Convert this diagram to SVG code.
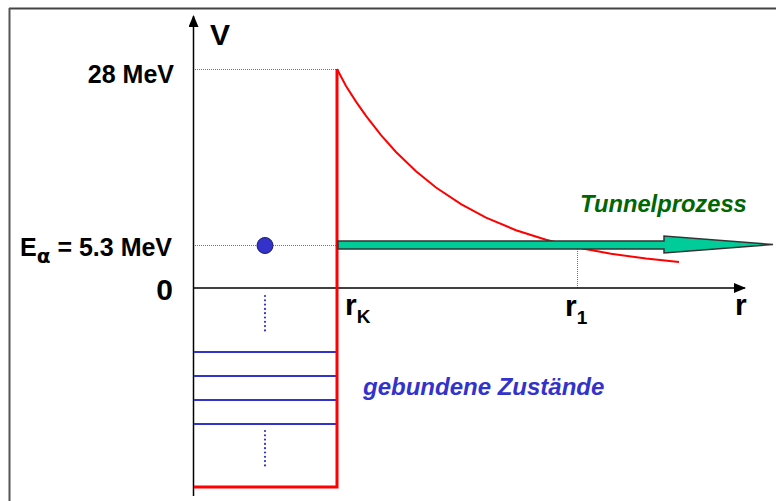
<svg xmlns="http://www.w3.org/2000/svg" width="776" height="501" viewBox="0 0 776 501">
<style>
.lbl{font-family:"Liberation Sans",Arial,sans-serif;font-weight:bold;fill:#000}
.it{font-family:"Liberation Sans",Arial,sans-serif;font-weight:bold;font-style:italic}
.blue{stroke:#3333cc;stroke-width:2;fill:none}
.dots{stroke:#3333cc;stroke-width:2.2;stroke-dasharray:0 4.3;stroke-linecap:round;fill:none}
.guide{stroke:#777;stroke-width:1;stroke-dasharray:1 1;fill:none}
.red{stroke:#ff0000;fill:none}
</style>
<defs>
<marker id="ah" markerWidth="12" markerHeight="10" refX="11" refY="5" orient="auto" markerUnits="userSpaceOnUse">
<path d="M0,0 L12,5 L0,10 Z" fill="#000"/>
</marker>
</defs>
<rect width="776" height="501" fill="#fff"/>
<g id="frame">
<line x1="9" y1="8.5" x2="776" y2="8.5" stroke="#444" stroke-width="2"/>
<line x1="9.5" y1="8" x2="9.5" y2="501" stroke="#555" stroke-width="2"/>
</g>
<g id="guides">
<line class="guide" x1="195" y1="69.5" x2="336" y2="69.5"/>
<line class="guide" x1="195" y1="245.5" x2="336" y2="245.5"/>
<line class="guide" x1="577.5" y1="249" x2="577.5" y2="288"/>
</g>
<g id="connectors">
<line id="v-axis" x1="193.5" y1="496" x2="193.5" y2="16" stroke="#000" stroke-width="1.5" marker-end="url(#ah)"/>
<line id="r-axis" x1="193" y1="288" x2="745" y2="288" stroke="#000" stroke-width="1.5" marker-end="url(#ah)"/>
</g>
<g id="bound-states">
<line class="blue" x1="194" y1="352" x2="336" y2="352"/>
<line class="blue" x1="194" y1="376" x2="336" y2="376"/>
<line class="blue" x1="194" y1="400" x2="336" y2="400"/>
<line class="blue" x1="194" y1="424" x2="336" y2="424"/>
<line class="dots" x1="265" y1="296" x2="265" y2="332"/>
<line class="dots" x1="265" y1="431" x2="265" y2="467"/>
</g>
<g id="potential">
<path class="red" stroke-width="3" d="M194,487 H337 V69"/>
<path class="red" stroke-width="2" d="M337,69 L346,86 L356,101.6 L366,115.9 L381,135.2 L396,152 L416,171.3 L436,187.5 L461,204.2 L486,217.6 L516,230.2 L546,239.8 L576,247.3 L611,253.8 L646,258.6 L679,262"/>
</g>
<g id="tunnel-arrow">
<path d="M338,241 H664 V236 L773,244.5 L664,253 V249 H338 Z" fill="#00cc99" stroke="#333" stroke-width="1.5"/>
</g>
<g id="alpha">
<circle cx="265" cy="245.5" r="8" fill="#3333cc" stroke="#1a1a66" stroke-width="1"/>
</g>
<g id="labels">
<text class="lbl" x="210" y="45" font-size="30">V</text>
<text class="lbl" x="174" y="83" font-size="25" text-anchor="end">28 MeV</text>
<text class="lbl" x="20" y="256" font-size="25">E<tspan font-size="20" dy="7" font-family="'DejaVu Sans',sans-serif">α</tspan><tspan dy="-7"> = 5.3 MeV</tspan></text>
<text class="lbl" x="173" y="300" font-size="30" text-anchor="end">0</text>
<text class="lbl" x="345" y="315" font-size="30">r<tspan font-size="19" dy="8">K</tspan></text>
<text class="lbl" x="565" y="316" font-size="30">r<tspan font-size="19" dy="8">1</tspan></text>
<text class="lbl" x="735" y="315" font-size="30">r</text>
<text class="it" x="580" y="212" font-size="23.7" fill="#006600">Tunnelprozess</text>
<text class="it" x="363" y="395" font-size="24" fill="#3333cc">gebundene Zustände</text>
</g>
</svg>
